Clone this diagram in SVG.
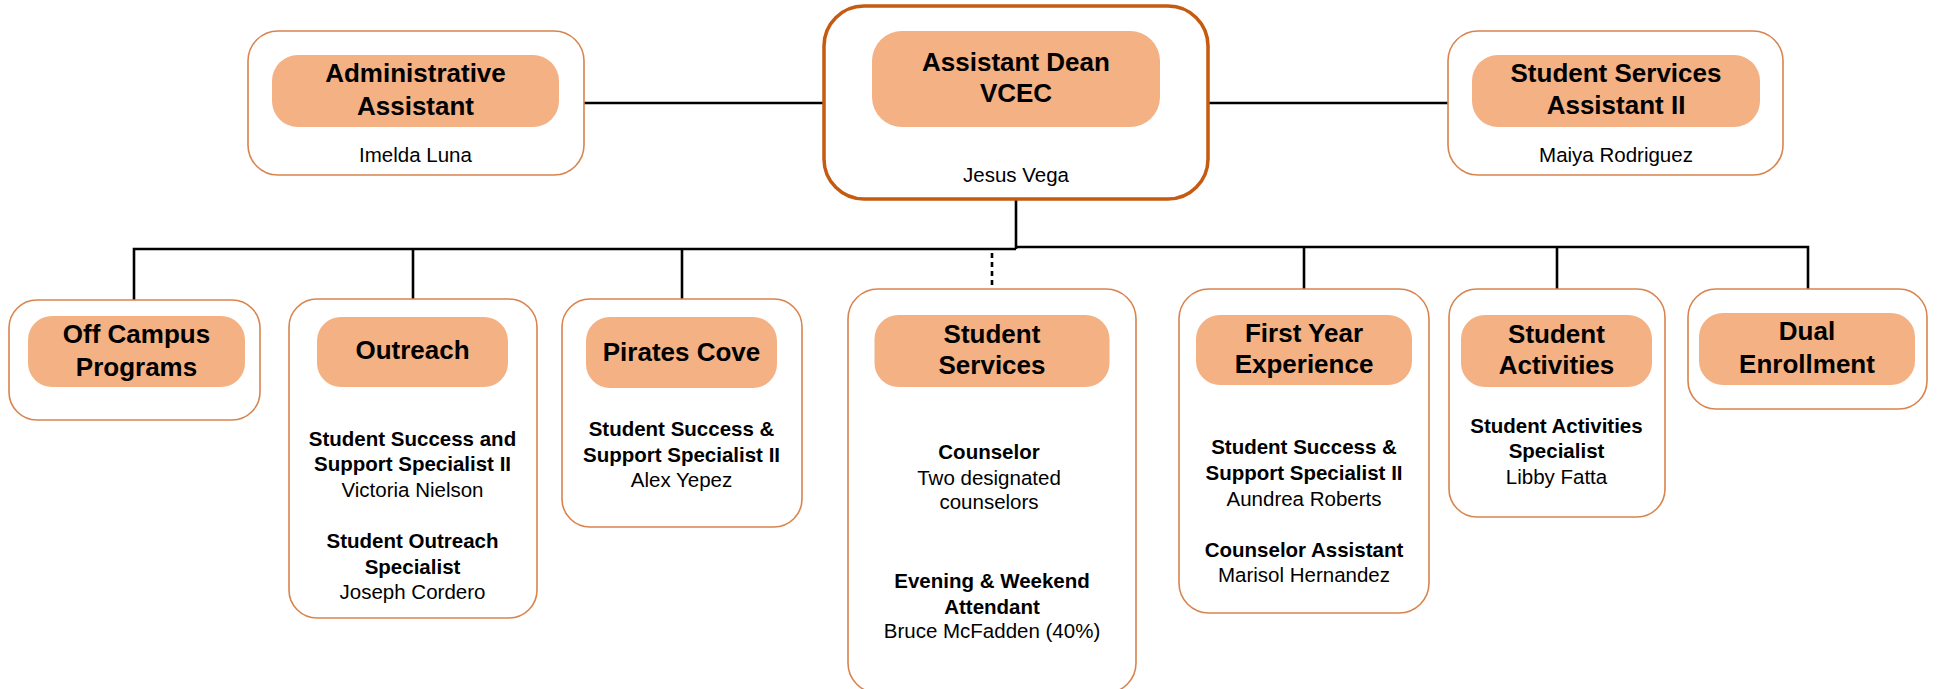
<svg xmlns="http://www.w3.org/2000/svg" width="1937" height="689" viewBox="0 0 1937 689">
<style>
.box{fill:#fff;stroke:#D9844E;stroke-width:1.6}
.main{fill:#fff;stroke:#C55A11;stroke-width:3.5}
.pill{fill:#F4B183;stroke:none}
.t{font-family:"Liberation Sans",Arial,sans-serif;font-weight:bold;font-size:26px;fill:#000;text-anchor:middle}
.b{font-family:"Liberation Sans",Arial,sans-serif;font-weight:bold;font-size:20.5px;fill:#000;text-anchor:middle}
.n{font-family:"Liberation Sans",Arial,sans-serif;font-size:20.5px;fill:#000;text-anchor:middle}
.ln{stroke:#000;stroke-width:2.6;fill:none}
.dash{stroke:#000;stroke-width:2.6;fill:none;stroke-dasharray:5,4}
</style>
<rect width="1937" height="689" fill="#fff"/>
<g id="connectors">
<line class="ln" x1="584" y1="103" x2="824" y2="103"/>
<line class="ln" x1="1208" y1="103" x2="1448" y2="103"/>
<line class="ln" x1="1016" y1="199" x2="1016" y2="249"/>
<polyline class="ln" points="134,300 134,249 1016,249"/>
<polyline class="ln" points="1016,247 1808,247 1808,289"/>
<line class="ln" x1="413" y1="249" x2="413" y2="299"/>
<line class="ln" x1="682" y1="249" x2="682" y2="299"/>
<line class="dash" x1="992" y1="253" x2="992" y2="289"/>
<line class="ln" x1="1304" y1="247" x2="1304" y2="289"/>
<line class="ln" x1="1557" y1="247" x2="1557" y2="289"/>
</g>
<g id="admin">
<rect class="box" x="248" y="31" width="336" height="144" rx="30"/>
<rect class="pill" x="272" y="55" width="287" height="72" rx="26"/>
<text class="t" x="415.5" y="82">Administrative</text>
<text class="t" x="415.5" y="115">Assistant</text>
<text class="n" x="415.5" y="162">Imelda Luna</text>
</g>
<g id="dean">
<rect class="main" x="824" y="6" width="384" height="193" rx="40"/>
<rect class="pill" x="872" y="31" width="288" height="96" rx="30"/>
<text class="t" x="1016" y="71">Assistant Dean</text>
<text class="t" x="1016" y="102">VCEC</text>
<text class="n" x="1016" y="182">Jesus Vega</text>
</g>
<g id="ssa">
<rect class="box" x="1448" y="31" width="335" height="144" rx="30"/>
<rect class="pill" x="1472" y="55" width="288" height="72" rx="26"/>
<text class="t" x="1616" y="82">Student Services</text>
<text class="t" x="1616" y="114">Assistant II</text>
<text class="n" x="1616" y="162">Maiya Rodriguez</text>
</g>
<g id="offcampus">
<rect class="box" x="9" y="300" width="251" height="120" rx="28"/>
<rect class="pill" x="28" y="316" width="217" height="71" rx="24"/>
<text class="t" x="136.5" y="343">Off Campus</text>
<text class="t" x="136.5" y="376">Programs</text>
</g>
<g id="outreach">
<rect class="box" x="289" y="299" width="248" height="319" rx="28"/>
<rect class="pill" x="317" y="317" width="191" height="70" rx="24"/>
<text class="t" x="412.5" y="359">Outreach</text>
<text class="b" x="412.5" y="446">Student Success and</text>
<text class="b" x="412.5" y="471">Support Specialist II</text>
<text class="n" x="412.5" y="497">Victoria Nielson</text>
<text class="b" x="412.5" y="548">Student Outreach</text>
<text class="b" x="412.5" y="574">Specialist</text>
<text class="n" x="412.5" y="599">Joseph Cordero</text>
</g>
<g id="pirates">
<rect class="box" x="562" y="299" width="240" height="228" rx="28"/>
<rect class="pill" x="586" y="317" width="191" height="71" rx="24"/>
<text class="t" x="681.5" y="361">Pirates Cove</text>
<text class="b" x="681.5" y="436">Student Success &amp;</text>
<text class="b" x="681.5" y="462">Support Specialist II</text>
<text class="n" x="681.5" y="487">Alex Yepez</text>
</g>
<g id="studentservices">
<rect class="box" x="848" y="289" width="288" height="404" rx="30"/>
<rect class="pill" x="874.5" y="315" width="235" height="72" rx="24"/>
<text class="t" x="992" y="343">Student</text>
<text class="t" x="992" y="374">Services</text>
<text class="b" x="989" y="459">Counselor</text>
<text class="n" x="989" y="485">Two designated</text>
<text class="n" x="989" y="509">counselors</text>
<text class="b" x="992" y="588">Evening &amp; Weekend</text>
<text class="b" x="992" y="614">Attendant</text>
<text class="n" x="992" y="638">Bruce McFadden (40%)</text>
</g>
<g id="firstyear">
<rect class="box" x="1179" y="289" width="250" height="324" rx="30"/>
<rect class="pill" x="1196" y="315" width="216" height="70" rx="24"/>
<text class="t" x="1304" y="342">First Year</text>
<text class="t" x="1304" y="373">Experience</text>
<text class="b" x="1304" y="454">Student Success &amp;</text>
<text class="b" x="1304" y="480">Support Specialist II</text>
<text class="n" x="1304" y="506">Aundrea Roberts</text>
<text class="b" x="1304" y="557">Counselor Assistant</text>
<text class="n" x="1304" y="582">Marisol Hernandez</text>
</g>
<g id="activities">
<rect class="box" x="1449" y="289" width="216" height="228" rx="28"/>
<rect class="pill" x="1461" y="315" width="191" height="72" rx="24"/>
<text class="t" x="1556.5" y="343">Student</text>
<text class="t" x="1556.5" y="374">Activities</text>
<text class="b" x="1556.5" y="433">Student Activities</text>
<text class="b" x="1556.5" y="458">Specialist</text>
<text class="n" x="1556.5" y="484">Libby Fatta</text>
</g>
<g id="dual">
<rect class="box" x="1688" y="289" width="239" height="120" rx="28"/>
<rect class="pill" x="1699" y="313" width="216" height="72" rx="24"/>
<text class="t" x="1807" y="340">Dual</text>
<text class="t" x="1807" y="373">Enrollment</text>
</g>
</svg>
